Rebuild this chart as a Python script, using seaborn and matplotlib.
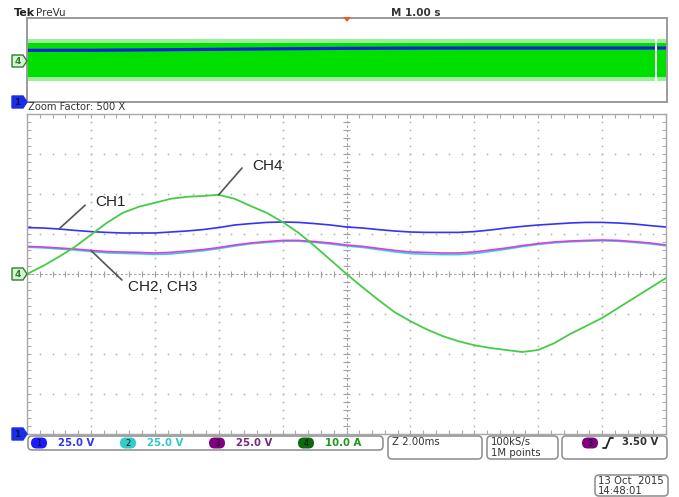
import numpy as np
import pandas as pd
import matplotlib
matplotlib.use("Agg")
import matplotlib.pyplot as plt
from matplotlib.patches import FancyBboxPatch, Polygon
import seaborn as sns

# ---------------------------------------------------------------- data
# zoomed window: 10 divisions x 2 ms/div, samples every 0.5 ms
time_ms = np.linspace(-10, 10, 41)

# CH4 current (10 A/div)
ch4_amps = [0.0, 2.0, 4.3, 6.8, 9.8, 12.8, 15.3, 16.8, 17.8, 18.8, 19.3,
            19.5, 19.8, 18.8, 17.0, 15.3, 13.0, 10.3, 7.0, 3.5, 0.0,
            -3.3, -6.5, -9.5, -11.8, -13.8, -15.5, -16.8, -17.8, -18.5, -19.0,
            -19.5, -19.0, -17.3, -15.0, -13.0, -11.0, -8.5, -6.0, -3.5, -1.0]

# CH1..CH3 voltages, in screen divisions (25 V/div)
ch1_div = [1.16, 1.15, 1.125, 1.09, 1.06, 1.04, 1.025, 1.025, 1.025, 1.05, 1.075,
           1.11, 1.16, 1.225, 1.26, 1.29, 1.30, 1.29, 1.26, 1.225, 1.175,
           1.15, 1.11, 1.075, 1.05, 1.04, 1.04, 1.04, 1.06, 1.10, 1.15,
           1.19, 1.225, 1.25, 1.275, 1.29, 1.29, 1.275, 1.25, 1.21, 1.175]
ch3_div = [0.69, 0.675, 0.65, 0.625, 0.59, 0.56, 0.55, 0.54, 0.525, 0.54, 0.575,
           0.61, 0.66, 0.725, 0.775, 0.81, 0.84, 0.84, 0.81, 0.775, 0.725,
           0.69, 0.64, 0.59, 0.55, 0.54, 0.525, 0.525, 0.55, 0.60, 0.65,
           0.71, 0.76, 0.80, 0.825, 0.84, 0.85, 0.84, 0.81, 0.775, 0.725]
ch2_div = [0.67, 0.655, 0.625, 0.60, 0.56, 0.53, 0.515, 0.505, 0.49, 0.50, 0.54,
           0.58, 0.635, 0.70, 0.755, 0.79, 0.82, 0.82, 0.79, 0.75, 0.70,
           0.665, 0.61, 0.555, 0.51, 0.495, 0.485, 0.485, 0.51, 0.565, 0.62,
           0.685, 0.74, 0.78, 0.805, 0.82, 0.83, 0.82, 0.79, 0.755, 0.705]

# preview strip (1 s/div, 10 s record)
strip_time_s = [0, 1, 2, 3, 4, 5, 6, 7, 8, 9, 10]
strip_ch1_div = [0.92, 0.93, 0.97, 1.02, 1.07, 1.11, 1.13, 1.14, 1.14, 1.14, 1.14]
strip_ch4_peak = 2.0
strip_ch4_core = 1.66
strip_gap_s = 9.83

ch_scales = ["25.0 V", "25.0 V", "25.0 V", "10.0 A"]
timebase = "Z 2.00ms"
rate_text = ["100kS/s", "1M points"]
trig_level = "3.50 V"
stamp = ["13 Oct  2015", "14:48:01"]

C_CH1 = "#3434f5"
C_CH2 = "#2fd3dc"
C_CH3 = "#dc3cdc"
C_CH4 = "#45cc45"

# ---------------------------------------------------------------- figure
W, H, DPI = 679, 497, 100
sns.set_theme(style="white")
plt.rcParams["font.family"] = ["DejaVu Sans"]

fig = plt.figure(figsize=(W / DPI, H / DPI), dpi=DPI)
fig.patch.set_facecolor("white")


def fig_rect(x0, y0, x1, y1):
    return [x0 / W, 1 - y1 / H, (x1 - x0) / W, (y1 - y0) / H]


ax = fig.add_axes(fig_rect(27, 114, 666, 434))
strip = fig.add_axes(fig_rect(27, 18, 667, 102))
over = fig.add_axes([0, 0, 1, 1], zorder=10)
over.set_xlim(0, W)
over.set_ylim(H, 0)
over.axis("off")
over.patch.set_alpha(0)

# ---------------------------------------------------------------- main graticule
ax.set_xlim(-10, 10)
ax.set_ylim(-4, 4)
ax.set_facecolor("white")
minor_x = np.linspace(-10, 10, 51)
minor_y = np.linspace(-4, 4, 41)
ax.set_xticks(minor_x)
ax.set_yticks(minor_y)
ax.tick_params(axis="both", which="both", direction="in", length=3, width=0.8,
               color="#a8a8a8", top=True, right=True, bottom=True, left=True,
               labelbottom=False, labelleft=False)
for s in ax.spines.values():
    s.set_color("#a8a8a8")
    s.set_linewidth(1.0)

grid_kw = dict(linestyle="none", marker="s", ms=1.1, mec="none", mfc="#adadad")
for gx in range(-8, 9, 2):
    if gx != 0:
        ax.plot(np.full(minor_y.size, gx), minor_y, **grid_kw)
for gy in range(-3, 4):
    if gy != 0:
        ax.plot(minor_x, np.full(minor_x.size, gy), **grid_kw)
ax.axhline(0, color="#a0a0a0", lw=0.8, ls=(0, (2, 2)))
ax.axvline(0, color="#a0a0a0", lw=0.8, ls=(0, (2, 2)))
ax.vlines(minor_x, -0.08, 0.08, color="#a0a0a0", lw=0.8)
ax.hlines(minor_y, -0.12, 0.12, color="#a0a0a0", lw=0.8)

# ---------------------------------------------------------------- traces
df = pd.DataFrame({"t": time_ms, "CH1": ch1_div, "CH2": ch2_div,
                   "CH3": ch3_div, "CH4": np.asarray(ch4_amps) / 10.0})
line_kw = dict(estimator=None, sort=False, legend=False, ax=ax)
sns.lineplot(data=df, x="t", y="CH2", color=C_CH2, lw=1.2, **line_kw)
sns.lineplot(data=df, x="t", y="CH3", color=C_CH3, lw=1.2, **line_kw)
sns.lineplot(data=df, x="t", y="CH1", color=C_CH1, lw=1.2, **line_kw)
sns.lineplot(data=df, x="t", y="CH4", color=C_CH4, lw=1.3, **line_kw)
ax.set_xlabel("")
ax.set_ylabel("")

# trace labels with leader lines
lab_kw = dict(fontsize=11, color="#222222", family=["Liberation Sans"],
              va="center", ha="left")
lead_kw = dict(color="#555555", lw=1.2)
i4, i1, i23 = 12, 2, 4
ax.plot([-3.27, df.t[i4]], [2.65, df.CH4[i4]], **lead_kw)
ax.text(-2.96, 2.7, "CH4", **lab_kw)
ax.plot([-8.18, df.t[i1]], [1.72, df.CH1[i1]], **lead_kw)
ax.text(-7.87, 1.8, "CH1", **lab_kw)
ax.plot([df.t[i23], -7.03], [df.CH3[i23], -0.15], **lead_kw)
ax.text(-6.84, -0.33, "CH2, CH3", **lab_kw)

# ---------------------------------------------------------------- preview strip
strip.set_xlim(0, 10.0)
strip.set_ylim(-4, 4)
strip.set_xticks([])
strip.set_yticks([])
for s in strip.spines.values():
    s.set_color("#9a9a9a")
    s.set_linewidth(1.4)
strip.fill_between(strip_time_s, -strip_ch4_peak, strip_ch4_peak,
                   color="#9af09a", lw=0)
strip.fill_between(strip_time_s, -strip_ch4_core, strip_ch4_core,
                   color="#00e000", lw=0)
sns.lineplot(x=strip_time_s, y=strip_ch1_div, ax=strip, color="#1420d8",
             lw=2.3, estimator=None, sort=False)
strip.axvline(strip_gap_s, color="white", lw=1.4)

# ---------------------------------------------------------------- header text
over.text(14, 13, "Tek", fontsize=8, weight="bold", color="#222", va="center")
over.text(36, 13, "PreVu", fontsize=7.5, color="#333", va="center")
over.text(391, 13, "M 1.00 s", fontsize=7.5, weight="bold", color="#333",
          va="center")
over.text(28, 107, "Zoom Factor: 500 X", fontsize=7.2, color="#333",
          va="center")
over.add_patch(Polygon([(343, 17), (351, 17), (347, 22)], closed=True,
                       fc="#f05a1e", ec="none"))


# ground markers at the left edge
def marker(yc, label, fc, ec, tc):
    over.add_patch(Polygon([(12, yc - 6), (23, yc - 6), (27, yc),
                            (23, yc + 6), (12, yc + 6)], closed=True,
                           fc=fc, ec=ec, lw=1.0))
    over.text(17.5, yc + 0.5, label, fontsize=6.5, color=tc, weight="bold",
              ha="center", va="center")


marker(61, "4", "#d8f2d8", "#2f7f2f", "#2f7f2f")
marker(102, "1", "#1a2ee8", "#1a2ee8", "#101060")
marker(274, "4", "#d8f2d8", "#2f7f2f", "#2f7f2f")
marker(434, "1", "#1a2ee8", "#1a2ee8", "#101060")


# ---------------------------------------------------------------- status bar
def rbox(x0, y0, x1, y1, r=4):
    over.add_patch(FancyBboxPatch((x0, y0), x1 - x0, y1 - y0,
                                  boxstyle=f"round,pad=0,rounding_size={r}",
                                  fc="white", ec="#8c8c8c", lw=1.1))


def badge(x0, yc, label, fc):
    over.add_patch(FancyBboxPatch((x0, yc - 5.5), 16, 11,
                                  boxstyle="round,pad=0,rounding_size=5.5",
                                  fc=fc, ec="none"))
    over.text(x0 + 8, yc + 0.5, label, fontsize=6, color="#111",
              ha="center", va="center")


st_kw = dict(fontsize=7.3, va="center", ha="left")
rbox(28, 436, 383, 450)
badges = [(31, C_CH1, "#1a1aff", "1"), (120, "#2fc8cc", "#33cccc", "2"),
          (209, "#7a2a7a", "#800080", "3"), (298, "#1f951f", "#0b6a0b", "4")]
for (bx, tcol, bcol, lab), sc in zip(badges, ch_scales):
    badge(bx, 443, lab, bcol)
    over.text(bx + 27, 443, sc, color=tcol, weight="bold", **st_kw)

rbox(388, 436, 482, 459)
over.text(392, 442, timebase, color="#333", **st_kw)
rbox(487, 436, 558, 459)
over.text(491, 442, rate_text[0], color="#333", **st_kw)
over.text(491, 453, rate_text[1], color="#333", **st_kw)
rbox(562, 436, 667, 459)
badge(582, 443, "3", "#800080")
over.plot([603, 606, 610, 613], [448, 448, 438, 438], color="#222", lw=1.3)
over.text(622, 442, trig_level, color="#333", weight="bold", **st_kw)

rbox(595, 475, 668, 496)
over.text(598, 481, stamp[0], color="#333", **st_kw)
over.text(598, 491, stamp[1], color="#333", **st_kw)

fig.savefig("out.png", dpi=DPI, facecolor="white")
